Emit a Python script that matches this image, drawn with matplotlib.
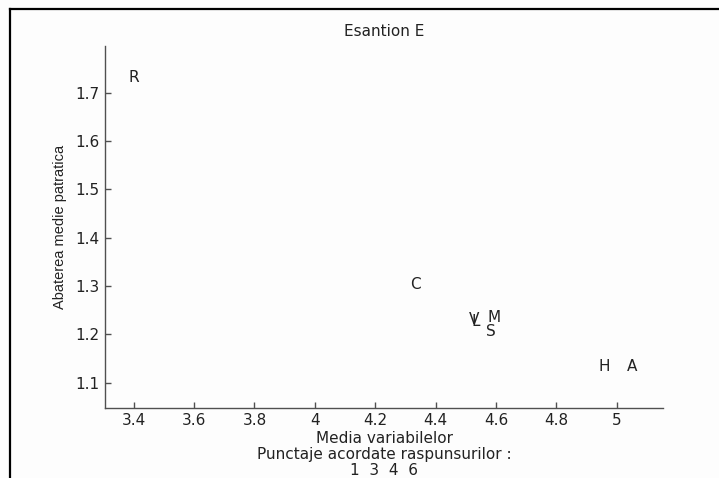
import matplotlib
matplotlib.use("Agg")
import matplotlib.pyplot as plt
from matplotlib.lines import Line2D

plt.rcParams['font.family'] = ['DejaVu Sans']

labels = ["R", "C", "V", "L", "M", "S", "H", "A"]
media = [3.383, 4.315, 4.511, 4.519, 4.572, 4.568, 4.941, 5.035]
abatere = [1.732, 1.302, 1.230, 1.226, 1.234, 1.2065, 1.133, 1.133]
punctaje = [1, 3, 4, 6]
xticks = [3.4, 3.6, 3.8, 4.0, 4.2, 4.4, 4.6, 4.8, 5.0]
xticklabels = ["3.4", "3.6", "3.8", "4", "4.2", "4.4", "4.6", "4.8", "5"]
yticks = [1.1, 1.2, 1.3, 1.4, 1.5, 1.6, 1.7]

FS = 11
TXT = '#222222'

fig = plt.figure(figsize=(7.19, 4.78), dpi=100, facecolor='#fdfdfd')
ax = fig.add_axes([105/719, 1-407.7/478, (663-105)/719, (407.7-45.7)/478])
ax.set_facecolor('#fdfdfd')

for s, x, y in zip(labels, media, abatere):
    ax.text(x, y, s, ha='left', va='center', fontsize=FS, color=TXT)

ax.set_xlim(3.305, 5.153)
ax.set_ylim(1.048, 1.797)
ax.set_xticks(xticks)
ax.set_xticklabels(xticklabels)
ax.set_yticks(yticks)
ax.set_yticklabels([f"{v:.1f}" for v in yticks])

for side in ['top', 'right']:
    ax.spines[side].set_visible(False)
for side in ['left', 'bottom']:
    ax.spines[side].set_color('#505050')
    ax.spines[side].set_linewidth(1.0)

ax.tick_params(direction='in', length=4, width=1, color='#505050',
               labelsize=FS, labelcolor=TXT)
ax.tick_params(axis='x', pad=4)
ax.tick_params(axis='y', pad=4)

ax.set_title("Esantion E", fontsize=FS, color=TXT, pad=7)
ax.set_ylabel("Abaterea medie patratica", fontsize=10.5, color=TXT, labelpad=6,
              family='Liberation Sans')
ax.set_xlabel("Media variabilelor\nPunctaje acordate raspunsurilor :\n"
              + "  ".join(str(p) for p in punctaje),
              fontsize=FS, color=TXT, linespacing=1.08, labelpad=2)

# outer frame (top and left edges)
fig.add_artist(Line2D([9.5/719, 9.5/719], [0, 1-8.5/478], transform=fig.transFigure,
                      color='black', linewidth=1.6))
fig.add_artist(Line2D([9.5/719, 1], [1-8.5/478, 1-8.5/478], transform=fig.transFigure,
                      color='black', linewidth=1.6))

fig.savefig("out.png", dpi=100, facecolor=fig.get_facecolor())
